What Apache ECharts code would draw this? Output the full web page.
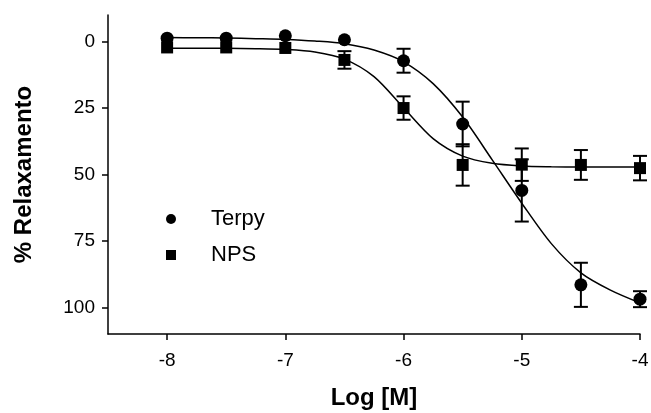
<!DOCTYPE html>
<html>
<head>
<meta charset="utf-8">
<script src="https://cdn.jsdelivr.net/npm/echarts@6/dist/echarts.min.js"></script>
<style>
  html, body { margin: 0; padding: 0; background: #fff; }
  #chart { width: 651px; height: 413px; }
</style>
</head>
<body>
<div id="chart"></div>
<script>
// dados
const doses = [-8, -7.5, -7, -6.5, -6, -5.5, -5, -4.5, -4];
const terpyMean = [-1.3, -1.3, -2.2, -0.7, 7.2, 31, 56, 91.5, 96.9];
const terpyErr = [0, 0, 0, 0, 4.5, 8.4, 11.7, 8.3, 3];
const npsMean = [2.2, 2.2, 2.4, 6.9, 25, 46.4, 46.3, 46.4, 47.6];
const npsErr = [0, 0, 0, 3.3, 4.4, 7.8, 6.1, 5.6, 4.6];

// curvas ajustadas (pontos lidos ao longo da curva)
const fitX = [-8, -7.75, -7.5, -7.25, -7, -6.75, -6.5, -6.25, -6, -5.75, -5.5, -5.25, -5, -4.75, -4.5, -4.25, -4];
const terpyFit = [-1.5, -1.45, -1.35, -1.1, -0.8, -0.2, 0.8, 3.2, 7.6, 15.8, 28.4, 44.5, 60.8, 76, 87, 93.5, 98.3];
const npsFit = [2.5, 2.5, 2.55, 2.65, 2.95, 3.9, 6.6, 13.2, 24.9, 36.5, 43.1, 45.8, 46.8, 47.1, 47.2, 47.2, 47.2];

const xTicks = [-8, -7, -6, -5, -4];
const yTicks = [0, 25, 50, 75, 100];

const zip = (xs, ys) => xs.map((x, i) => [x, ys[i]]);
const zip3 = (xs, ys, es) => xs.map((x, i) => [x, ys[i], es[i]]);

function renderErr(params, api) {
  const x = api.value(0), y = api.value(1), e = api.value(2);
  if (!e) return;
  const top = api.coord([x, y - e]);
  const bot = api.coord([x, y + e]);
  const half = 7;
  const style = { stroke: '#000', lineWidth: 2 };
  return {
    type: 'group',
    children: [
      { type: 'line', shape: { x1: top[0], y1: top[1], x2: bot[0], y2: bot[1] }, style },
      { type: 'line', shape: { x1: top[0] - half, y1: top[1], x2: top[0] + half, y2: top[1] }, style },
      { type: 'line', shape: { x1: bot[0] - half, y1: bot[1], x2: bot[0] + half, y2: bot[1] }, style }
    ]
  };
}

const font = '"Liberation Sans", Arial, sans-serif';
const chart = echarts.init(document.getElementById('chart'));

chart.setOption({
  animation: false,
  backgroundColor: '#fff',
  textStyle: { fontFamily: font, color: '#000' },
  grid: { left: 108, right: 11, top: 15, bottom: 79, containLabel: false, outerBoundsMode: 'none' },
  legend: {
    data: ['Terpy', 'NPS'],
    orient: 'vertical',
    left: 161,
    top: 203,
    itemWidth: 10,
    itemHeight: 10,
    itemGap: 14,
    itemStyle: { opacity: 1 },
    textStyle: { fontSize: 22, color: '#000', fontFamily: font, padding: [0, 0, 0, 30], lineHeight: 22 }
  },
  xAxis: {
    type: 'value',
    min: -8.5,
    max: -4,
    name: 'Log [M]',
    nameLocation: 'middle',
    nameGap: 52,
    nameTextStyle: { fontSize: 24, fontWeight: 'bold', color: '#000', fontFamily: font },
    axisLine: { onZero: false, lineStyle: { color: '#000', width: 1.5 } },
    axisTick: { length: 6, lineStyle: { color: '#000', width: 1.5 }, customValues: xTicks },
    axisLabel: { fontSize: 19, color: '#000', margin: 17, customValues: xTicks },
    splitLine: { show: false }
  },
  yAxis: {
    type: 'value',
    inverse: true,
    min: -10,
    max: 110,
    name: '% Relaxamento',
    nameLocation: 'middle',
    nameGap: 72,
    nameTextStyle: { fontSize: 24, fontWeight: 'bold', color: '#000', fontFamily: font },
    axisLine: { show: true, onZero: false, lineStyle: { color: '#000', width: 1.5 } },
    axisTick: { show: true, length: 6, lineStyle: { color: '#000', width: 1.5 }, customValues: yTicks },
    axisLabel: { fontSize: 19, color: '#000', margin: 13, customValues: yTicks },
    splitLine: { show: false }
  },
  series: [
    {
      name: 'TerpyFit', type: 'line', data: zip(fitX, terpyFit), smooth: 0.3,
      showSymbol: false, lineStyle: { color: '#000', width: 1.5 }, z: 2
    },
    {
      name: 'NPSFit', type: 'line', data: zip(fitX, npsFit), smooth: 0.3,
      showSymbol: false, lineStyle: { color: '#000', width: 1.5 }, z: 2
    },
    {
      name: 'TerpyErr', type: 'custom', renderItem: renderErr,
      data: zip3(doses, terpyMean, terpyErr), z: 3
    },
    {
      name: 'NPSErr', type: 'custom', renderItem: renderErr,
      data: zip3(doses, npsMean, npsErr), z: 3
    },
    {
      name: 'NPS', type: 'scatter', symbol: 'rect', symbolSize: 12,
      itemStyle: { color: '#000', opacity: 1 }, data: zip(doses, npsMean), z: 4
    },
    {
      name: 'Terpy', type: 'scatter', symbol: 'circle', symbolSize: 13,
      itemStyle: { color: '#000', opacity: 1 }, data: zip(doses, terpyMean), z: 5
    }
  ]
});
</script>
</body>
</html>
